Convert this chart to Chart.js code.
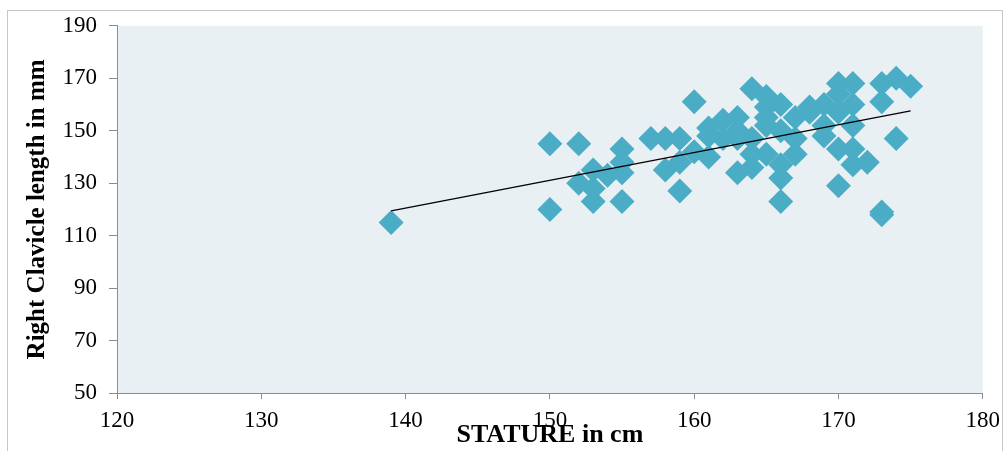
<!DOCTYPE html>
<html>
<head>
<meta charset="utf-8">
<script src="https://cdn.jsdelivr.net/npm/chart.js@4.4.1/dist/chart.umd.min.js"></script>
<style>
    html, body { margin: 0; padding: 0; background: #ffffff; }
    .chart-box { position: relative; width: 1008px; height: 451px; }
</style>
</head>
<body>
<div class="chart-box"><canvas id="myChart"></canvas></div>
<script>
// stature (cm) and right clavicle length (mm)
const statureCm = [139, 150, 150, 152, 152, 153, 153, 153, 154, 155, 155, 155, 155,
    157, 158, 159, 158, 159, 159, 160, 160, 161, 161, 162, 162, 163, 163, 163,
    164, 165, 165, 166, 165, 165, 164, 164, 165, 164, 166, 167, 167, 166, 166,
    167, 168, 169, 168, 170, 171, 173, 174, 175, 173, 170, 171, 170, 171, 169,
    169, 170, 171, 171, 172, 170, 174, 173, 173, 166, 163, 161];
const clavicleMm = [115, 145, 120, 145, 130, 135, 128, 123, 133, 143, 138, 134, 123,
    147, 147, 147, 135, 138, 127, 142, 161, 151, 140, 154, 147, 150, 134, 155,
    166, 163, 159, 160, 152, 155, 147, 141, 141, 136, 137, 141, 147, 132, 123,
    155, 157, 160, 159, 168, 168, 168, 170, 167, 161, 164, 160, 157, 152, 152,
    148, 143, 143, 137, 138, 129, 147, 119, 118, 150, 147, 148];

// linear trend line end points
const trendX = [139, 175];
const trendY = [119.4, 157.6];

const xTicks = [120, 130, 140, 150, 160, 170, 180];
const yTicks = [50, 70, 90, 110, 130, 150, 170, 190];

const points = statureCm.map((x, i) => ({ x: x, y: clavicleMm[i] }));
const trend = trendX.map((x, i) => ({ x: x, y: trendY[i] }));

const serif = "'Liberation Serif', 'Times New Roman', serif";

// light plot area fill + outer chart frame
const framePlugin = {
    id: 'frame',
    beforeDraw(chart) {
        const ctx = chart.ctx;
        const a = chart.chartArea;
        ctx.save();
        ctx.fillStyle = '#e9f0f4';
        ctx.fillRect(a.left, a.top, a.right - a.left, a.bottom - a.top);
        ctx.strokeStyle = '#c6c6c6';
        ctx.lineWidth = 1;
        ctx.strokeRect(7.5, 10.5, 995, 460);
        ctx.restore();
    }
};

new Chart(document.getElementById('myChart'), {
    type: 'scatter',
    data: {
        datasets: [
            {
                label: 'Linear',
                data: trend,
                showLine: true,
                borderColor: '#000000',
                borderWidth: 1.3,
                pointRadius: 0,
                order: 0
            },
            {
                label: 'Right clavicle',
                data: points,
                pointStyle: 'rectRot',
                pointRadius: 12.5,
                pointHoverRadius: 12.5,
                backgroundColor: '#4bacc6',
                borderColor: '#4bacc6',
                borderWidth: 0,
                order: 1
            }
        ]
    },
    options: {
        responsive: true,
        maintainAspectRatio: false,
        animation: false,
        layout: { padding: { top: 24, right: 21, left: 0, bottom: 0 } },
        plugins: {
            legend: { display: false },
            tooltip: { enabled: false }
        },
        scales: {
            x: {
                type: 'linear',
                min: 120,
                max: 180,
                afterBuildTicks: (scale) => { scale.ticks = xTicks.map(v => ({ value: v })); },
                afterFit: (scale) => { scale.height = 58; },
                border: { color: '#8c8c8c', width: 1 },
                grid: { drawOnChartArea: false, drawTicks: true, tickLength: 6, color: '#8c8c8c' },
                ticks: { color: '#000000', padding: 8, font: { family: serif, size: 23 } },
                title: {
                    display: true,
                    text: 'STATURE in cm',
                    color: '#000000',
                    padding: { top: 0, bottom: 0 },
                    font: { family: serif, size: 26, weight: 'bold', lineHeight: 1.2 }
                }
            },
            y: {
                type: 'linear',
                min: 50,
                max: 190,
                afterBuildTicks: (scale) => { scale.ticks = yTicks.map(v => ({ value: v })); },
                afterFit: (scale) => { scale.width = 117; },
                border: { color: '#8c8c8c', width: 1 },
                grid: { drawOnChartArea: false, drawTicks: true, tickLength: 8, color: '#8c8c8c' },
                ticks: { color: '#000000', padding: 12, font: { family: serif, size: 23 } },
                title: {
                    display: true,
                    text: 'Right Clavicle length in mm',
                    color: '#000000',
                    padding: { top: 23, bottom: 0 },
                    font: { family: serif, size: 25, weight: 'bold', lineHeight: 1.2 }
                }
            }
        }
    },
    plugins: [framePlugin]
});
</script>
</body>
</html>
